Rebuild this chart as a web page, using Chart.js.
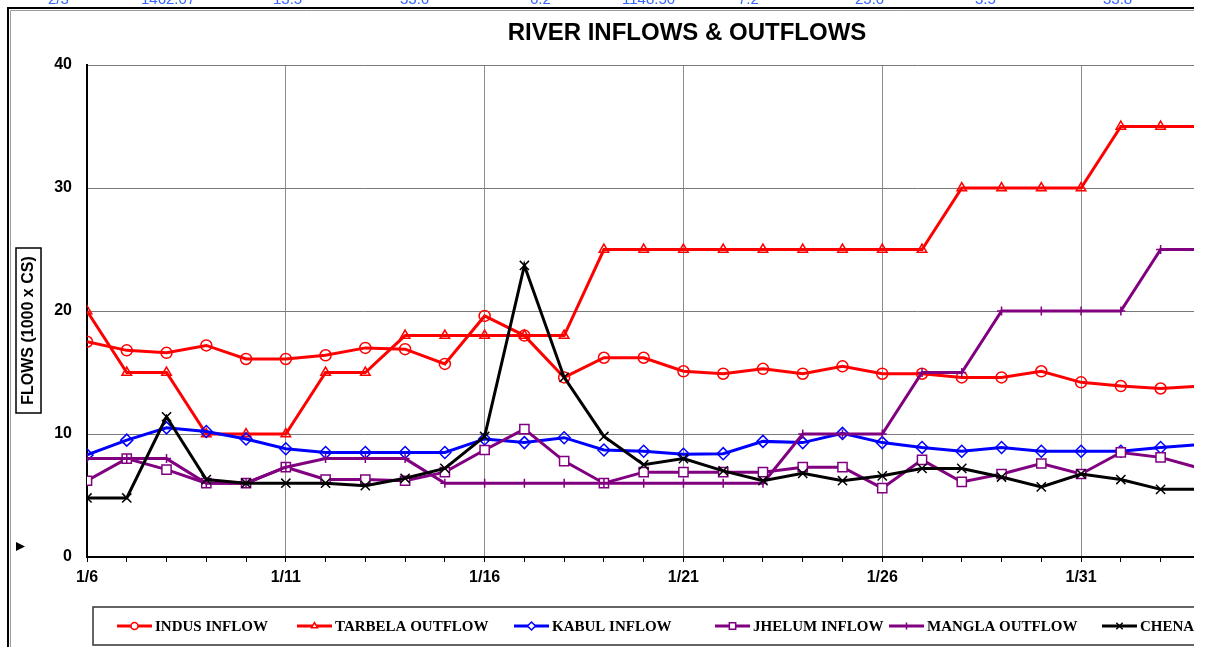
<!DOCTYPE html>
<html>
<head>
<meta charset="utf-8">
<script src="https://cdn.jsdelivr.net/npm/chart.js@4.4.1/dist/chart.umd.min.js"></script>
<style>
  html, body { margin: 0; padding: 0; background: #fff; }
  #wrap { position: absolute; left: 0; top: 0; width: 1194px; height: 647px; }
</style>
</head>
<body>
<div id="wrap"><canvas id="flowChart" width="1194" height="647"></canvas></div>
<script>
const dates = ["1/6", "1/7", "1/8", "1/9", "1/10", "1/11", "1/12", "1/13", "1/14", "1/15",
    "1/16", "1/17", "1/18", "1/19", "1/20", "1/21", "1/22", "1/23", "1/24", "1/25",
    "1/26", "1/27", "1/28", "1/29", "1/30", "1/31", "2/1", "2/2", "2/3"];

const indusInflow = [17.5, 16.8, 16.6, 17.2, 16.1, 16.1, 16.4, 17.0, 16.9, 15.7,
    19.6, 18.0, 14.6, 16.2, 16.2, 15.1, 14.9, 15.3, 14.9, 15.5,
    14.9, 14.9, 14.6, 14.6, 15.1, 14.2, 13.9, 13.7, 13.9];
const tarbelaOutflow = [20, 15, 15, 10, 10, 10, 15, 15, 18, 18,
    18, 18, 18, 25, 25, 25, 25, 25, 25, 25,
    25, 25, 30, 30, 30, 30, 35, 35, 35];
const kabulInflow = [8.3, 9.5, 10.5, 10.2, 9.6, 8.8, 8.5, 8.5, 8.5, 8.5,
    9.6, 9.3, 9.7, 8.7, 8.6, 8.35, 8.4, 9.4, 9.3, 10.05,
    9.3, 8.9, 8.6, 8.9, 8.6, 8.6, 8.6, 8.9, 9.15];
const jhelumInflow = [6.2, 8.0, 7.1, 6.0, 6.0, 7.3, 6.3, 6.3, 6.2, 6.9,
    8.7, 10.4, 7.8, 6.0, 6.9, 6.9, 6.9, 6.9, 7.3, 7.3,
    5.6, 7.9, 6.1, 6.75, 7.6, 6.75, 8.5, 8.1, 7.2];
const manglaOutflow = [8, 8, 8, 6, 6, 7.3, 8, 8, 8, 6,
    6, 6, 6, 6, 6, 6, 6, 6, 10, 10,
    10, 15, 15, 20, 20, 20, 20, 25, 25];
const chenabInflow = [4.8, 4.8, 11.4, 6.3, 6.0, 6.0, 6.0, 5.8, 6.4, 7.2,
    9.8, 23.7, 14.6, 9.8, 7.5, 8.0, 7.0, 6.2, 6.8, 6.2,
    6.6, 7.2, 7.2, 6.5, 5.7, 6.75, 6.3, 5.5, 5.5];

const yTicks = [0, 10, 20, 30, 40];

// strip of the table above the chart, mostly cut off
const topRow = ["2/3", "1462.07", "13.5", "33.6", "6.2", "1148.50", "7.2", "25.0", "3.5", "33.8"];

const toPoints = (values) => values.map((v, i) => ({ x: i, y: v }));

function series(label, values, color, pointStyle, radius, fill, order) {
    return {
        label: label,
        data: toPoints(values),
        borderColor: color,
        borderWidth: 3,
        pointStyle: pointStyle,
        pointRadius: radius,
        pointHoverRadius: radius,
        pointBorderColor: color,
        pointBackgroundColor: fill,
        pointBorderWidth: 1.5,
        tension: 0,
        order: order,
    };
}

const datasets = [
    series("INDUS INFLOW", indusInflow, "#FF0000", "circle", 5.5, "rgba(0,0,0,0)", 6),
    series("TARBELA OUTFLOW", tarbelaOutflow, "#FF0000", "triangle", 5.5, "rgba(0,0,0,0)", 5),
    series("KABUL INFLOW", kabulInflow, "#0000FF", "rectRot", 6, "rgba(0,0,0,0)", 4),
    series("JHELUM INFLOW", jhelumInflow, "#800080", "rect", 6.5, "#FFFFFF", 3),
    series("MANGLA OUTFLOW", manglaOutflow, "#800080", "cross", 4.5, "#800080", 2),
    series("CHENAB INFLOW", chenabInflow, "#000000", "crossRot", 6.5, "#000000", 1),
];

// where each legend entry starts, left to right
const legendX = [117, 297, 514, 715, 889, 1102];

const decorations = {
    id: "decorations",
    beforeDraw(chart) {
        const ctx = chart.ctx;
        ctx.save();
        // outer frame
        ctx.strokeStyle = "#000";
        ctx.lineWidth = 2;
        ctx.beginPath();
        ctx.moveTo(8, 660);
        ctx.lineTo(8, 8);
        ctx.lineTo(1194, 8);
        ctx.stroke();
        ctx.strokeStyle = "#999";
        ctx.lineWidth = 1;
        ctx.beginPath();
        ctx.moveTo(10.5, 660);
        ctx.lineTo(10.5, 10.5);
        ctx.lineTo(1194, 10.5);
        ctx.stroke();

        // cut off table row
        ctx.fillStyle = "#3366FF";
        ctx.font = "15px 'Liberation Sans', Arial, sans-serif";
        ctx.textAlign = "left";
        ctx.textBaseline = "alphabetic";
        const topX = [48, 141, 273, 400, 530, 622, 738, 855, 975, 1103];
        topRow.forEach((t, i) => ctx.fillText(t, topX[i], 4));
        ctx.restore();
    },
    afterDraw(chart) {
        const ctx = chart.ctx;
        ctx.save();
        // title
        ctx.fillStyle = "#000";
        ctx.font = "bold 24px 'Liberation Sans', Arial, sans-serif";
        ctx.textAlign = "center";
        ctx.textBaseline = "middle";
        ctx.fillText("RIVER INFLOWS & OUTFLOWS", 687, 33);

        // y axis title in a box
        ctx.strokeStyle = "#000";
        ctx.lineWidth = 1.5;
        ctx.strokeRect(16, 248, 25, 165);
        ctx.translate(29, 330.5);
        ctx.rotate(-Math.PI / 2);
        ctx.font = "bold 16px 'Liberation Sans', Arial, sans-serif";
        ctx.fillText("FLOWS (1000 x CS)", 0, 0);
        ctx.setTransform(1, 0, 0, 1, 0, 0);

        // small marker at left
        ctx.fillStyle = "#000";
        ctx.beginPath();
        ctx.moveTo(16, 542);
        ctx.lineTo(25, 546.5);
        ctx.lineTo(16, 551);
        ctx.closePath();
        ctx.fill();

        // legend
        ctx.strokeStyle = "#333";
        ctx.lineWidth = 1.5;
        ctx.beginPath();
        ctx.moveTo(1194, 607);
        ctx.lineTo(93, 607);
        ctx.lineTo(93, 645);
        ctx.lineTo(1194, 645);
        ctx.stroke();
        ctx.font = "bold 15px 'Liberation Serif', 'Times New Roman', serif";
        ctx.textAlign = "left";
        ctx.textBaseline = "middle";
        const ly = 626;
        chart.data.datasets.forEach((ds, i) => {
            const x0 = legendX[i];
            ctx.strokeStyle = ds.borderColor;
            ctx.lineWidth = 3;
            ctx.beginPath();
            ctx.moveTo(x0, ly);
            ctx.lineTo(x0 + 35, ly);
            ctx.stroke();
            ctx.fillStyle = ds.pointBackgroundColor === "rgba(0,0,0,0)" ? "#fff" : ds.pointBackgroundColor;
            ctx.strokeStyle = ds.borderColor;
            ctx.lineWidth = 1.5;
            Chart.helpers.drawPoint(ctx, {
                pointStyle: ds.pointStyle,
                radius: Math.max(3.5, ds.pointRadius - 2),
                rotation: 0,
                borderWidth: 1.5,
            }, x0 + 17.5, ly);
            ctx.fillStyle = "#000";
            ctx.fillText(ds.label, x0 + 38, ly + 1);
        });
        ctx.restore();
    },
};

const flowConfig = {
    type: "line",
    data: { datasets: datasets },
    options: {
        responsive: false,
        animation: false,
        events: [],
        layout: { autoPadding: false, padding: { top: 65, left: 0, right: 0, bottom: 0 } },
        plugins: {
            legend: { display: false },
            title: { display: false },
            tooltip: { enabled: false },
        },
        scales: {
            x: {
                type: "linear",
                min: 0,
                max: 27.84,
                afterFit: (s) => { s.height = 90; s.paddingLeft = 0; s.paddingRight = 0; },
                ticks: {
                    stepSize: 1,
                    autoSkip: false,
                    maxRotation: 0,
                    includeBounds: false,
                    padding: 6,
                    color: "#000",
                    font: { family: "'Liberation Sans', Arial, sans-serif", size: 16, weight: "bold" },
                    callback: (v) => (v % 5 === 0 ? dates[v] : ""),
                },
                grid: {
                    color: (c) => (c.tick && c.tick.value % 5 === 0 ? "#8c8c8c" : "rgba(0,0,0,0)"),
                    lineWidth: 1,
                    tickColor: "#000",
                    tickLength: 5,
                    tickWidth: 1,
                },
                border: { color: "#000", width: 2 },
            },
            y: {
                min: 0,
                max: 40,
                afterFit: (s) => { s.width = 87; s.paddingTop = 0; s.paddingBottom = 0; },
                afterBuildTicks: (s) => { s.ticks = yTicks.map((v) => ({ value: v })); },
                ticks: {
                    padding: 15,
                    color: "#000",
                    font: { family: "'Liberation Sans', Arial, sans-serif", size: 16, weight: "bold" },
                },
                grid: { color: "#7a7a7a", lineWidth: 1, drawTicks: false },
                border: { color: "#000", width: 2 },
            },
        },
    },
    plugins: [decorations],
};

const flowChart = new Chart(document.getElementById("flowChart"), flowConfig);
</script>
</body>
</html>
